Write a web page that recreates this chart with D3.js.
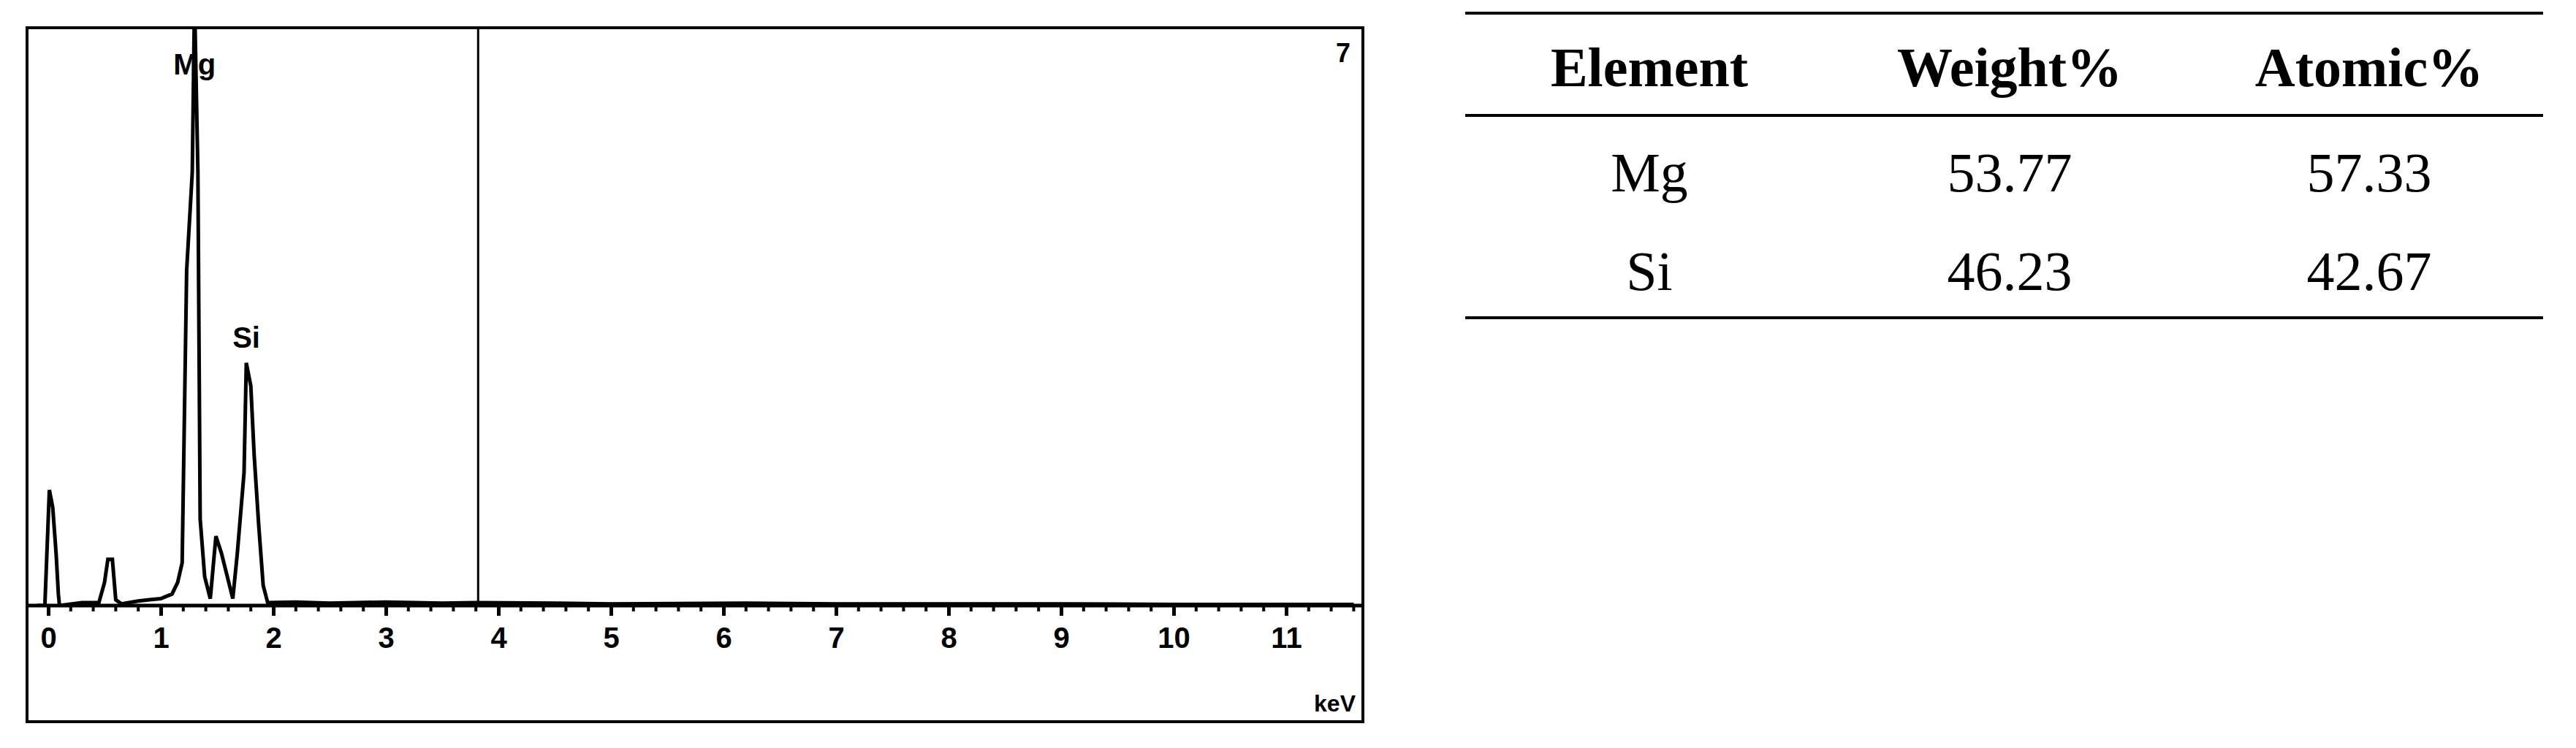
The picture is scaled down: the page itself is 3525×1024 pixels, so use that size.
<!DOCTYPE html>
<html><head><meta charset="utf-8">
<script src="https://cdn.jsdelivr.net/npm/d3@7"></script>
<style>body{margin:0;background:#fff}</style>
</head><body>
<svg id="vis" width="3525" height="1024"></svg>
<script>
// spectrum (keV, relative counts; 1 = top of frame)
const energy = [-0.1,-0.03,-0.01,0.01,0.04,0.07,0.09,0.1,0.3,0.45,0.5,0.53,0.57,0.6,0.65,0.8,0.9,1.0,1.1,1.15,1.19,1.23,1.28,1.3,1.33,1.35,1.39,1.44,1.49,1.54,1.64,1.68,1.74,1.76,1.8,1.83,1.87,1.91,1.95,2.2,2.5,3.0,3.5,3.8,4.5,5.0,6.2,7.0,8.0,9.0,10.0,11.0,11.6];
const counts = [0,0,0.1,0.2,0.17,0.09,0.02,0,0.005,0.005,0.04,0.08,0.08,0.01,0.003,0.008,0.01,0.012,0.02,0.04,0.074,0.58,0.75,1.05,0.75,0.15,0.05,0.012,0.12,0.09,0.012,0.09,0.23,0.42,0.38,0.26,0.14,0.035,0.005,0.006,0.004,0.006,0.004,0.005,0.004,0.003,0.004,0.003,0.003,0.003,0.002,0.002,0.002];
const majorTicks = [0,1,2,3,4,5,6,7,8,9,10,11];
const peakLabels = [{name:"Mg",e:1.3,v:0.9},{name:"Si",e:1.76,v:0.45}];
const markerE = 3.82;

const tableHead = ["Element","Weight%","Atomic%"];
const tableRows = [["Mg","53.77","57.33"],["Si","46.23","42.67"]];

const svg = d3.select("#vis");
const box = {left:37,top:38,right:1865,bottom:988};
const base = 829;

svg.append("rect").attr("x",box.left).attr("y",box.top)
  .attr("width",box.right-box.left).attr("height",box.bottom-box.top)
  .attr("fill","none").attr("stroke","#000").attr("stroke-width",4);

const x = d3.scaleLinear().domain([0,11]).range([66,1760]);
const y = d3.scaleLinear().domain([0,1]).range([base,box.top]);

svg.append("clipPath").attr("id","clip").append("rect")
  .attr("x",box.left).attr("y",box.top).attr("width",box.right-box.left).attr("height",base-box.top);

svg.append("path").datum(energy.map((e,i)=>[e,counts[i]]))
  .attr("clip-path","url(#clip)")
  .attr("fill","none").attr("stroke","#000").attr("stroke-width",5)
  .attr("d",d3.line().x(d=>x(d[0])).y(d=>y(d[1])).curve(d3.curveLinear));

// marker line
svg.append("line").attr("x1",x(markerE)).attr("x2",x(markerE))
  .attr("y1",box.top).attr("y2",base).attr("stroke","#000").attr("stroke-width",3);

// axis
const axis = svg.append("g").attr("transform","translate(0,"+base+")")
  .call(d3.axisBottom(x).tickValues(majorTicks).tickSize(14).tickPadding(16).tickFormat(d3.format("d")));
axis.select(".domain").remove();
axis.append("line").attr("x1",box.left).attr("x2",box.right).attr("stroke","#000").attr("stroke-width",5);
axis.selectAll(".tick line").attr("stroke-width",5);
axis.selectAll(".tick text").attr("font-family","Liberation Sans, Arial").attr("font-weight","bold").attr("font-size",40).attr("fill","#000");
const minor = d3.range(0,11.61,0.2).filter(v=>Math.abs(v-Math.round(v))>0.01);
axis.selectAll(".minor").data(minor).join("line").attr("class","minor")
  .attr("x1",d=>x(d)).attr("x2",d=>x(d)).attr("y1",0).attr("y2",8)
  .attr("stroke","#000").attr("stroke-width",4);

svg.selectAll(".pk").data(peakLabels).join("text").attr("class","pk")
  .attr("x",d=>x(d.e)).attr("y",d=>d.name==="Mg"?102:476)
  .attr("text-anchor","middle").attr("font-family","Liberation Sans, Arial")
  .attr("font-size",40).attr("font-weight","bold").text(d=>d.name);

svg.append("text").attr("x",1838).attr("y",85).attr("text-anchor","middle")
  .attr("font-family","Liberation Sans, Arial").attr("font-weight","bold").attr("font-size",36).text("7");
svg.append("text").attr("x",1855).attr("y",974).attr("text-anchor","end")
  .attr("font-family","Liberation Sans, Arial").attr("font-weight","bold").attr("font-size",32).text("keV");

// table
const tx = [2005,3480], colX = [2257,2750,3242];
[18,158,435].forEach(ly=>svg.append("line").attr("x1",tx[0]).attr("x2",tx[1])
  .attr("y1",ly).attr("y2",ly).attr("stroke","#000").attr("stroke-width",4));
const serif = "'Liberation Serif', 'Times New Roman', serif";
svg.selectAll(".th").data(tableHead).join("text").attr("class","th")
  .attr("x",(d,i)=>colX[i]).attr("y",118).attr("text-anchor","middle")
  .attr("font-family",serif).attr("font-weight","bold").attr("font-size",76).text(d=>d);
tableRows.forEach((row,r)=>{
  svg.selectAll(".tr"+r).data(row).join("text").attr("class","tr"+r)
    .attr("x",(d,i)=>colX[i]).attr("y",[262,397][r]).attr("text-anchor","middle")
    .attr("font-family",serif).attr("font-size",76).text(d=>d);
});
</script>
</body></html>
